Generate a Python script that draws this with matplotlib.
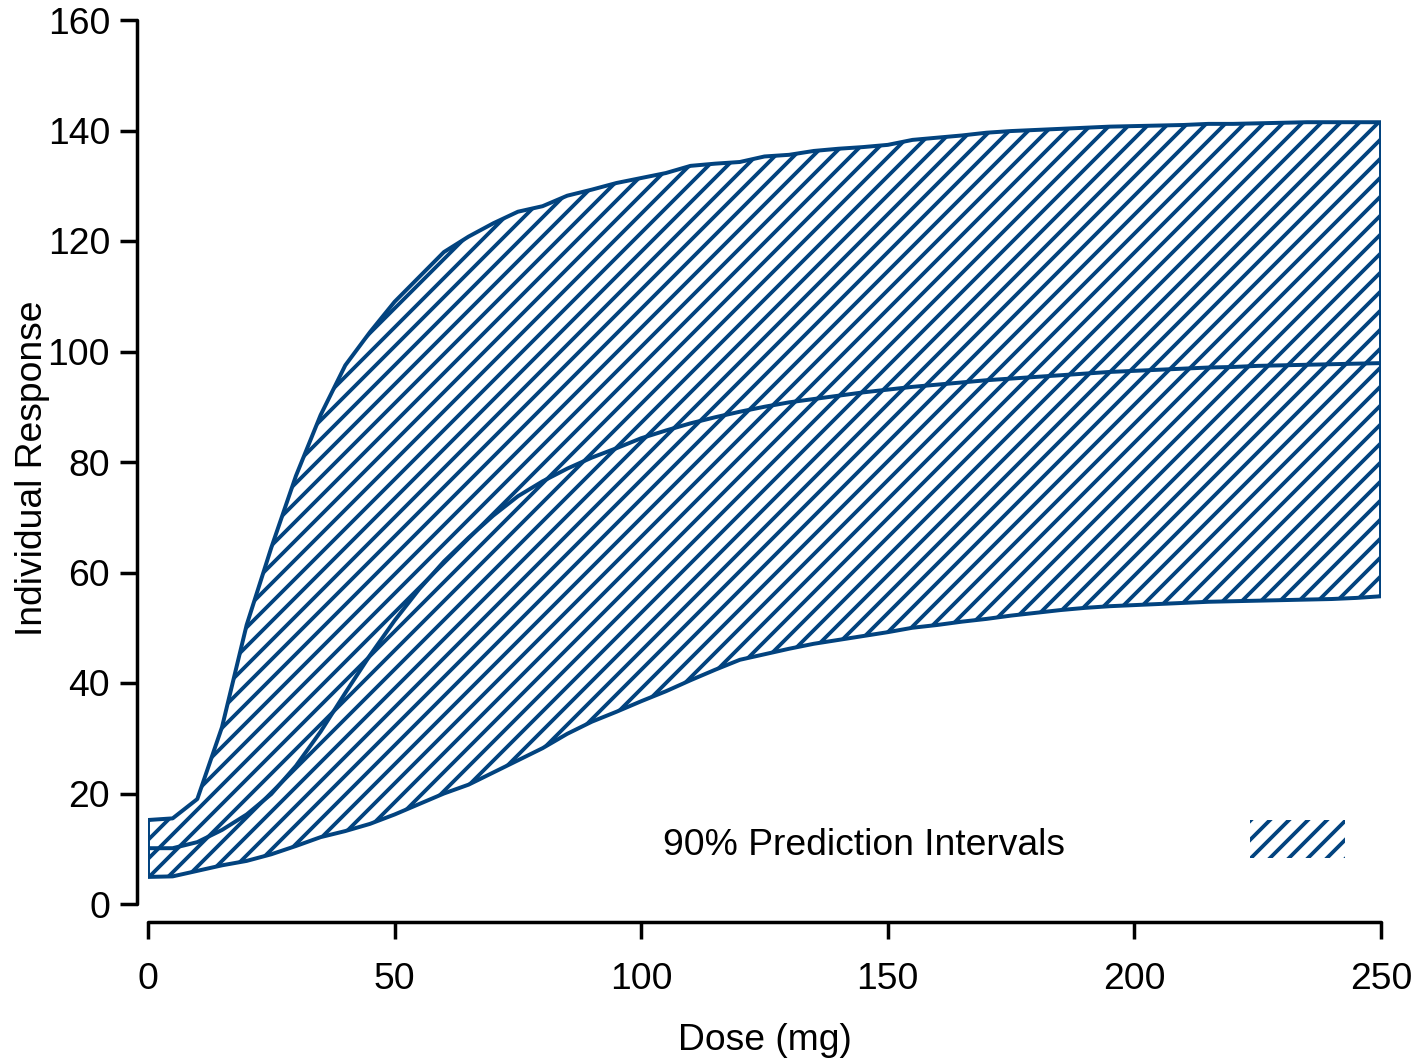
import matplotlib
matplotlib.use('Agg')
import matplotlib.pyplot as plt
from matplotlib.patches import Polygon, Rectangle

plt.rcParams['font.family'] = ['Liberation Sans', 'DejaVu Sans']
plt.rcParams['hatch.linewidth'] = 2.4

# dose grid (mg) and the 5% / 50% / 95% predicted response
dose = [0, 5, 10, 15, 20, 25, 30, 35, 40, 45, 50, 55, 60, 65, 70, 75, 80,
        85, 90, 95, 100, 105, 110, 115, 120, 125, 130, 135, 140, 145, 150,
        155, 160, 165, 170, 175, 180, 185, 190, 195, 200, 205, 210, 215,
        220, 225, 230, 235, 240, 245, 250]
upper = [15.2, 15.5, 19.0, 32.0, 50.5, 64.5, 77.5, 88.5, 97.5, 103.5, 109.0,
         113.5, 118.0, 120.8, 123.2, 125.3, 126.3, 128.2, 129.3, 130.5, 131.4,
         132.3, 133.6, 134.0, 134.3, 135.3, 135.6, 136.3, 136.7, 137.0, 137.4,
         138.3, 138.7, 139.1, 139.6, 139.9, 140.1, 140.3, 140.5, 140.7, 140.8,
         140.9, 141.0, 141.2, 141.2, 141.3, 141.4, 141.5, 141.5, 141.5, 141.5]
median = [10.1, 10.1, 11.2, 13.4, 16.2, 19.9, 25.0, 31.2, 38.2, 45.0, 51.3,
          57.0, 62.0, 66.3, 70.3, 73.8, 76.5, 78.8, 80.8, 82.5, 84.3, 85.7,
          87.0, 88.1, 89.1, 90.0, 90.8, 91.4, 92.0, 92.6, 93.1, 93.6, 94.0,
          94.4, 94.8, 95.1, 95.4, 95.7, 96.0, 96.3, 96.5, 96.7, 96.9, 97.1,
          97.2, 97.4, 97.5, 97.6, 97.7, 97.8, 97.9]
lower = [4.9, 5.0, 6.0, 7.0, 7.8, 9.0, 10.5, 12.1, 13.2, 14.5, 16.2, 18.1,
         20.0, 21.6, 23.8, 26.0, 28.2, 30.8, 33.0, 34.8, 36.7, 38.5, 40.5,
         42.4, 44.2, 45.2, 46.2, 47.1, 47.8, 48.5, 49.2, 50.0, 50.5, 51.1,
         51.6, 52.2, 52.7, 53.2, 53.6, 53.9, 54.1, 54.3, 54.5, 54.7, 54.8,
         54.9, 55.0, 55.1, 55.2, 55.4, 55.7]

xticks = [0, 50, 100, 150, 200, 250]
yticks = [0, 20, 40, 60, 80, 100, 120, 140, 160]
band_label = '90% Prediction Intervals'

col = '#02437f'
fs = 23.5

fig = plt.figure(figsize=(1418 / 114, 1062 / 114), dpi=114)
ax = fig.add_axes([148 / 1418, 158 / 1062, 1233 / 1418, 884 / 1062])

# hatched band between lower and upper limits
pts = list(zip(dose, upper)) + list(zip(dose[::-1], lower[::-1]))
band = Polygon(pts, closed=True, facecolor='none', edgecolor=col,
               hatch='//', linewidth=2.5, joinstyle='round')
ax.add_patch(band)
ax.plot(dose, median, color=col, linewidth=2.5, solid_joinstyle='round')

# legend entry: text plus a hatched swatch
ax.text(104.4, 10.5, band_label, fontsize=fs, ha='left', va='center')
ax.add_patch(Rectangle((223.5, 8.3), 19.2, 6.9, facecolor='none',
                       edgecolor=col, hatch='//', linewidth=0))

ax.set_xlim(0, 250)
ax.set_ylim(0, 160)
ax.set_xticks(xticks)
ax.set_yticks(yticks)

for s in ['top', 'right']:
    ax.spines[s].set_visible(False)
ax.spines['left'].set_position(('outward', 11 * 72 / 114))
ax.spines['bottom'].set_position(('outward', 18 * 72 / 114))
ax.spines['left'].set_bounds(0, 160)
ax.spines['bottom'].set_bounds(0, 250)
for s in ['left', 'bottom']:
    ax.spines[s].set_linewidth(2.2)
    ax.spines[s].set_capstyle('round')

ax.tick_params(axis='both', length=11, width=2.2, labelsize=fs,
               direction='out')
ax.tick_params(axis='y', pad=6)
ax.tick_params(axis='x', pad=14)

fig.text(33 / 1418, 1 - 468 / 1062, 'Individual Response', rotation=90,
         ha='center', va='center', fontsize=fs)
fig.text(765 / 1418, 1 - 1040 / 1062, 'Dose (mg)', ha='center',
         va='center', fontsize=fs)

fig.savefig('out.png', dpi=114)
